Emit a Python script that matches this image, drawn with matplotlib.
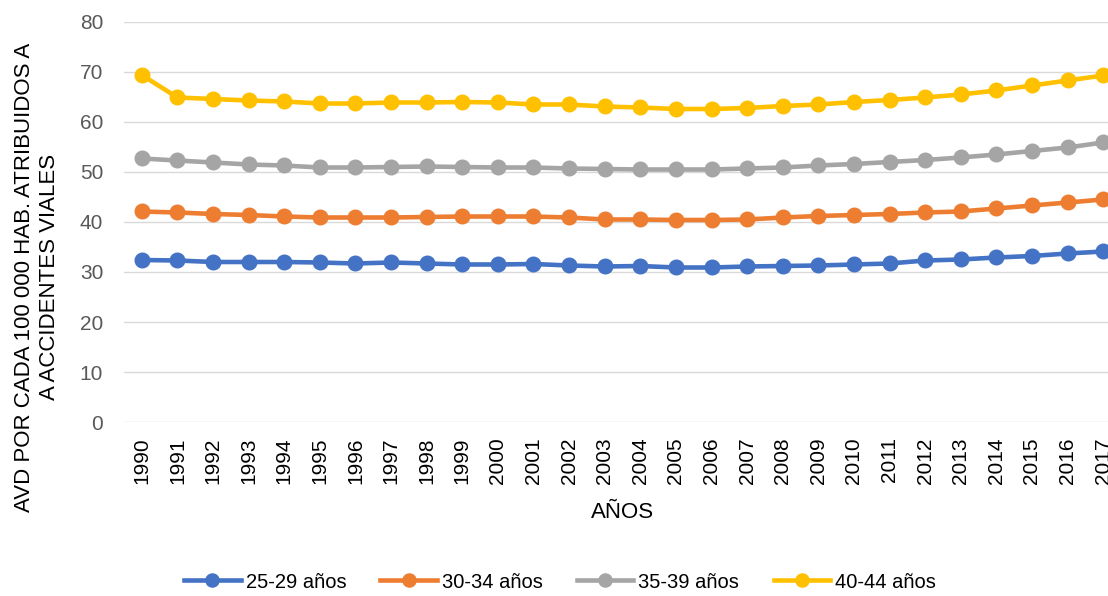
import matplotlib
matplotlib.use('Agg')
import matplotlib.pyplot as plt
import numpy as np

plt.rcParams.update({'font.family': ['Liberation Sans', 'DejaVu Sans'], 'font.size': 15})

YEARS = list(range(1990, 2018))
AGE_25_29 = [32.4, 32.3, 32.0, 32.0, 32.0, 31.9, 31.7, 31.9, 31.7, 31.5, 31.5, 31.6, 31.3, 31.1,
             31.2, 30.9, 30.9, 31.1, 31.2, 31.3, 31.5, 31.7, 32.3, 32.5, 32.9, 33.2, 33.7, 34.1]
AGE_30_34 = [42.1, 41.9, 41.6, 41.4, 41.1, 40.9, 40.9, 40.9, 41.0, 41.1, 41.1, 41.1, 40.9, 40.5,
             40.5, 40.4, 40.4, 40.5, 40.9, 41.2, 41.4, 41.6, 41.9, 42.1, 42.7, 43.3, 43.9, 44.5]
AGE_35_39 = [52.7, 52.3, 51.9, 51.5, 51.3, 50.9, 50.9, 51.0, 51.1, 51.0, 50.9, 50.9, 50.7, 50.6,
             50.5, 50.5, 50.5, 50.7, 50.9, 51.3, 51.6, 52.0, 52.4, 52.9, 53.5, 54.2, 54.9, 55.9]
AGE_40_44 = [69.4, 64.9, 64.6, 64.3, 64.1, 63.7, 63.7, 63.9, 63.9, 64.0, 63.9, 63.5, 63.5, 63.1,
             62.9, 62.6, 62.6, 62.8, 63.2, 63.5, 64.0, 64.4, 64.9, 65.5, 66.3, 67.3, 68.3, 69.3]
SERIES = [('25-29 años', AGE_25_29, '#4472C4'),
          ('30-34 años', AGE_30_34, '#ED7D31'),
          ('35-39 años', AGE_35_39, '#A5A5A5'),
          ('40-44 años', AGE_40_44, '#FFC000')]

W, H = 1108, 596
fig = plt.figure(figsize=(W / 100, H / 100), dpi=100)
ax = fig.add_axes([124 / W, (H - 422) / H, (1121 - 124) / W, 400 / H])

xs = np.arange(len(YEARS))
for label, vals, color in SERIES:
    ax.plot(xs, vals, color=color, lw=3.3, marker='o', ms=10.5, label=label)

ax.set_xlim(-0.5, len(YEARS) - 0.5)
ax.set_ylim(0, 80)
ax.set_yticks(range(0, 81, 10))
ax.set_xticks(xs)
ax.set_xticklabels([str(y) for y in YEARS], rotation=90)
ax.tick_params(axis='both', length=0, colors='#595959', labelsize=15)
ax.tick_params(axis='x', labelcolor='#000000')
ax.tick_params(axis='y', pad=15)
ax.tick_params(axis='x', pad=11)
ax.grid(axis='y', color='#D9D9D9', lw=1)
ax.set_axisbelow(True)
for s in ax.spines.values():
    s.set_visible(False)

ax.set_xlabel('AÑOS', fontsize=16, color='#000000', labelpad=13)
fig.text(37 / W, (H - 277) / H, 'AVD POR CADA 100 000 HAB. ATRIBUIDOS A\nA ACCIDENTES VIALES',
         rotation=90, ha='center', va='center', fontsize=16, color='#000000',
         multialignment='center', linespacing=1.25)

fig.legend(loc='center', bbox_to_anchor=(560 / W, (H - 582) / H), ncol=4, frameon=False,
           handlelength=2.8, handletextpad=0.25, columnspacing=1.7, fontsize=14.5,
           labelcolor='#000000', markerscale=0.9)

fig.savefig('out.png', dpi=100)
